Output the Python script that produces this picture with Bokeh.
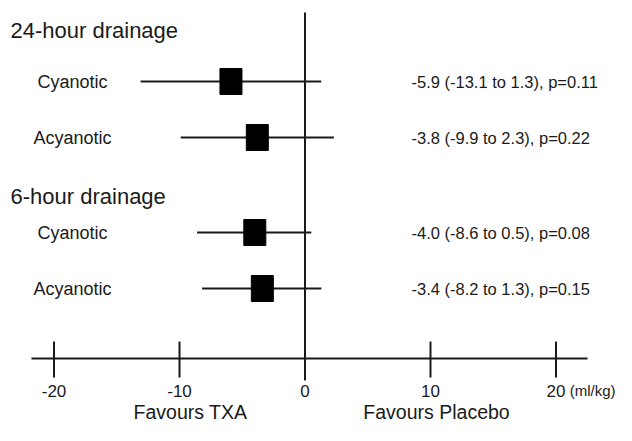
from bokeh.plotting import figure
from bokeh.models import Range1d, ColumnDataSource
from bokeh.core.properties import value
from bokeh.embed import file_html
from bokeh.resources import INLINE

# ---------------- data ----------------
groups = ["24-hour drainage", "6-hour drainage"]
row_labels = ["Cyanotic", "Acyanotic", "Cyanotic", "Acyanotic"]
row_group = [0, 0, 1, 1]
estimates = [-5.9, -3.8, -4.0, -3.4]
ci_low = [-13.1, -9.9, -8.6, -8.2]
ci_high = [1.3, 2.3, 0.5, 1.3]
p_values = [0.11, 0.22, 0.08, 0.15]
ticks = [-20, -10, 0, 10, 20]
tick_labels = ["-20", "-10", "0", "10", "20"]
unit_label = "(ml/kg)"
favour_labels = ["Favours TXA", "Favours Placebo"]

# ---------------- layout (pixel based) ----------------
W, H = 616, 425
X0, SCALE = 304.5, 12.55          # pixel x of value 0, px per ml/kg


def px(xp):
    """convert a horizontal pixel position to a data value"""
    return (xp - X0) / SCALE


row_y = [81, 137, 232, 288]       # vertical positions of study rows
header_y = [30, 196]
axis_y = 358
tick_top, tick_bot = 341, 377
zero_top, zero_bot = 12, 380
tick_label_y = 390
favour_y = 411
favour_x = [px(190), px(436)]

FONT = value("Liberation Sans")
INK = "#1a1a1a"

p = figure(width=W, height=H, output_backend="svg", toolbar_location=None,
           x_range=Range1d(px(0), px(W)), y_range=Range1d(H, 0),
           x_axis_type=None, y_axis_type=None, min_border=0,
           outline_line_color=None)
p.xgrid.visible = False
p.ygrid.visible = False

# zero line
p.segment(x0=[0], x1=[0], y0=[zero_top], y1=[zero_bot], line_color=INK, line_width=2)

# axis line + ticks
p.segment(x0=[px(31)], x1=[px(587)], y0=[axis_y], y1=[axis_y], line_color=INK, line_width=2)
nz = [t for t in ticks if t != 0]
p.segment(x0=nz, x1=nz, y0=[tick_top] * len(nz), y1=[tick_bot] * len(nz),
          line_color=INK, line_width=2)
p.text(x=ticks, y=[tick_label_y] * len(ticks), text=tick_labels, text_font=FONT,
       text_font_size="17px", text_align="center", text_baseline="middle", text_color=INK)
p.text(x=[px(615)], y=[tick_label_y], text=[unit_label], text_font=FONT,
       text_font_size="15px", text_align="right", text_baseline="middle", text_color=INK)

# favours labels
p.text(x=favour_x, y=[favour_y] * 2, text=favour_labels, text_font=FONT,
       text_font_size="19.5px", text_align="center", text_baseline="middle", text_color=INK)

# group headers
p.text(x=[px(10)] * 2, y=header_y, text=groups, text_font=FONT,
       text_font_size="22px", text_align="left", text_baseline="middle", text_color=INK)

# rows
src = ColumnDataSource(dict(
    y=row_y, est=estimates, lo=ci_low, hi=ci_high, lab=row_labels,
    lx=[px(72)] * 4, rx=[px(411)] * 4,
    txt=[f"{e:.1f} ({l:.1f} to {h:.1f}), p={pv:.2f}"
         for e, l, h, pv in zip(estimates, ci_low, ci_high, p_values)],
))
p.segment(x0="lo", x1="hi", y0="y", y1="y", source=src, line_color=INK, line_width=2)
p.rect(x="est", y="y", width=22, height=26, width_units="screen", height_units="screen",
       source=src, fill_color="black", line_color="black")
p.text(x="lx", y="y", text="lab", source=src, text_font=FONT, text_font_size="18px",
       text_align="center", text_baseline="middle", text_color=INK)
p.text(x="rx", y="y", text="txt", source=src, text_font=FONT, text_font_size="16.5px",
       text_align="left", text_baseline="middle", text_color=INK)

open("out.html", "w").write(file_html(p, INLINE))
